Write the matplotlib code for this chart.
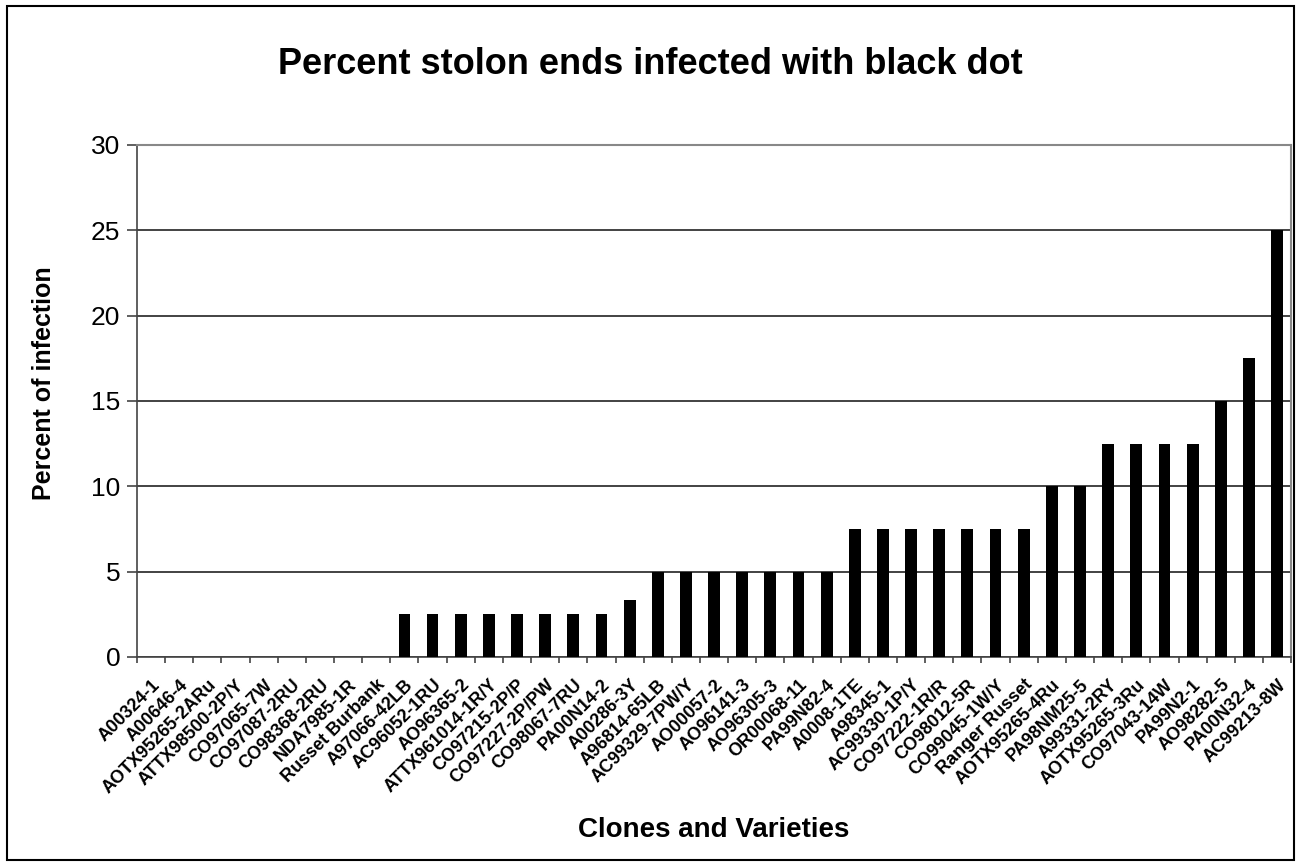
import matplotlib
matplotlib.use("Agg")
import matplotlib.pyplot as plt
from matplotlib.patches import Rectangle
import numpy as np

plt.rcParams["font.family"] = ["Liberation Sans", "DejaVu Sans"]

clones = [
    "A00324-1", "A00646-4", "AOTX95265-2ARu", "ATTX98500-2P/Y", "CO97065-7W",
    "CO97087-2RU", "CO98368-2RU", "NDA7985-1R", "Russet Burbank", "A97066-42LB",
    "AC96052-1RU", "AO96365-2", "ATTX961014-1R/Y", "CO97215-2P/P", "CO97227-2P/PW",
    "CO98067-7RU", "PA00N14-2", "A00286-3Y", "A96814-65LB", "AC99329-7PW/Y",
    "AO00057-2", "AO96141-3", "AO96305-3", "OR00068-11", "PA99N82-4",
    "A0008-1TE", "A98345-1", "AC99330-1P/Y", "CO97222-1R/R", "CO98012-5R",
    "CO99045-1W/Y", "Ranger Russet", "AOTX95265-4Ru", "PA98NM25-5", "A99331-2RY",
    "AOTX95265-3Ru", "CO97043-14W", "PA99N2-1", "AO98282-5", "PA00N32-4",
    "AC99213-8W",
]
pct_infected = [
    0, 0, 0, 0, 0, 0, 0, 0, 0,
    2.5, 2.5, 2.5, 2.5, 2.5, 2.5, 2.5, 2.5,
    3.33,
    5, 5, 5, 5, 5, 5, 5,
    7.5, 7.5, 7.5, 7.5, 7.5, 7.5, 7.5,
    10, 10,
    12.5, 12.5, 12.5, 12.5,
    15, 17.5, 25,
]
y_ticks = [0, 5, 10, 15, 20, 25, 30]

fig = plt.figure(figsize=(13.01, 8.65), dpi=100)
ax = fig.add_axes([0.1053, 0.2405, 0.8871, 0.5919])

x = np.arange(len(clones))
ax.bar(x, pct_infected, width=0.42, color="black", zorder=3)

ax.set_xlim(-0.5, len(clones) - 0.5)
ax.set_ylim(0, 30)
ax.set_yticks(y_ticks)
ax.set_yticklabels([str(v) for v in y_ticks], fontsize=19)
ax.yaxis.grid(True, color="#222222", linewidth=1.2, zorder=0)
ax.tick_params(axis="y", direction="out", length=7, width=1.2, color="#444444", pad=5)

# category labels at centres, tick marks at category boundaries (Excel style)
ax.set_xticks(x)
ax.set_xticklabels(clones, rotation=45, ha="right", rotation_mode="anchor",
                   fontsize=13, fontweight="bold")
ax.tick_params(axis="x", which="major", length=0, pad=14)
ax.set_xticks(np.arange(len(clones) + 1) - 0.5, minor=True)
ax.tick_params(axis="x", which="minor", direction="out", length=4.5, width=1.2, color="#444444")

for side in ["left", "bottom"]:
    ax.spines[side].set_color("#444444")
    ax.spines[side].set_linewidth(1.2)
for side in ["top", "right"]:
    ax.spines[side].set_color("#888888")
    ax.spines[side].set_linewidth(1.5)

fig.text(0.034, 1 - 383 / 865, "Percent of infection", rotation=90, ha="center",
         va="center", fontsize=18, fontweight="bold")
fig.text(0.5485, 1 - 830 / 865, "Clones and Varieties", ha="center", va="center",
         fontsize=20, fontweight="bold")
fig.text(0.5, 1 - 65 / 865, "Percent stolon ends infected with black dot", ha="center",
         va="center", fontsize=26, fontweight="bold")

# outer chart border
fig.patches.append(Rectangle((0.005, 0.006), 0.99, 0.987, transform=fig.transFigure,
                             fill=False, edgecolor="black", linewidth=1.5))

fig.savefig("out.png", dpi=100)
